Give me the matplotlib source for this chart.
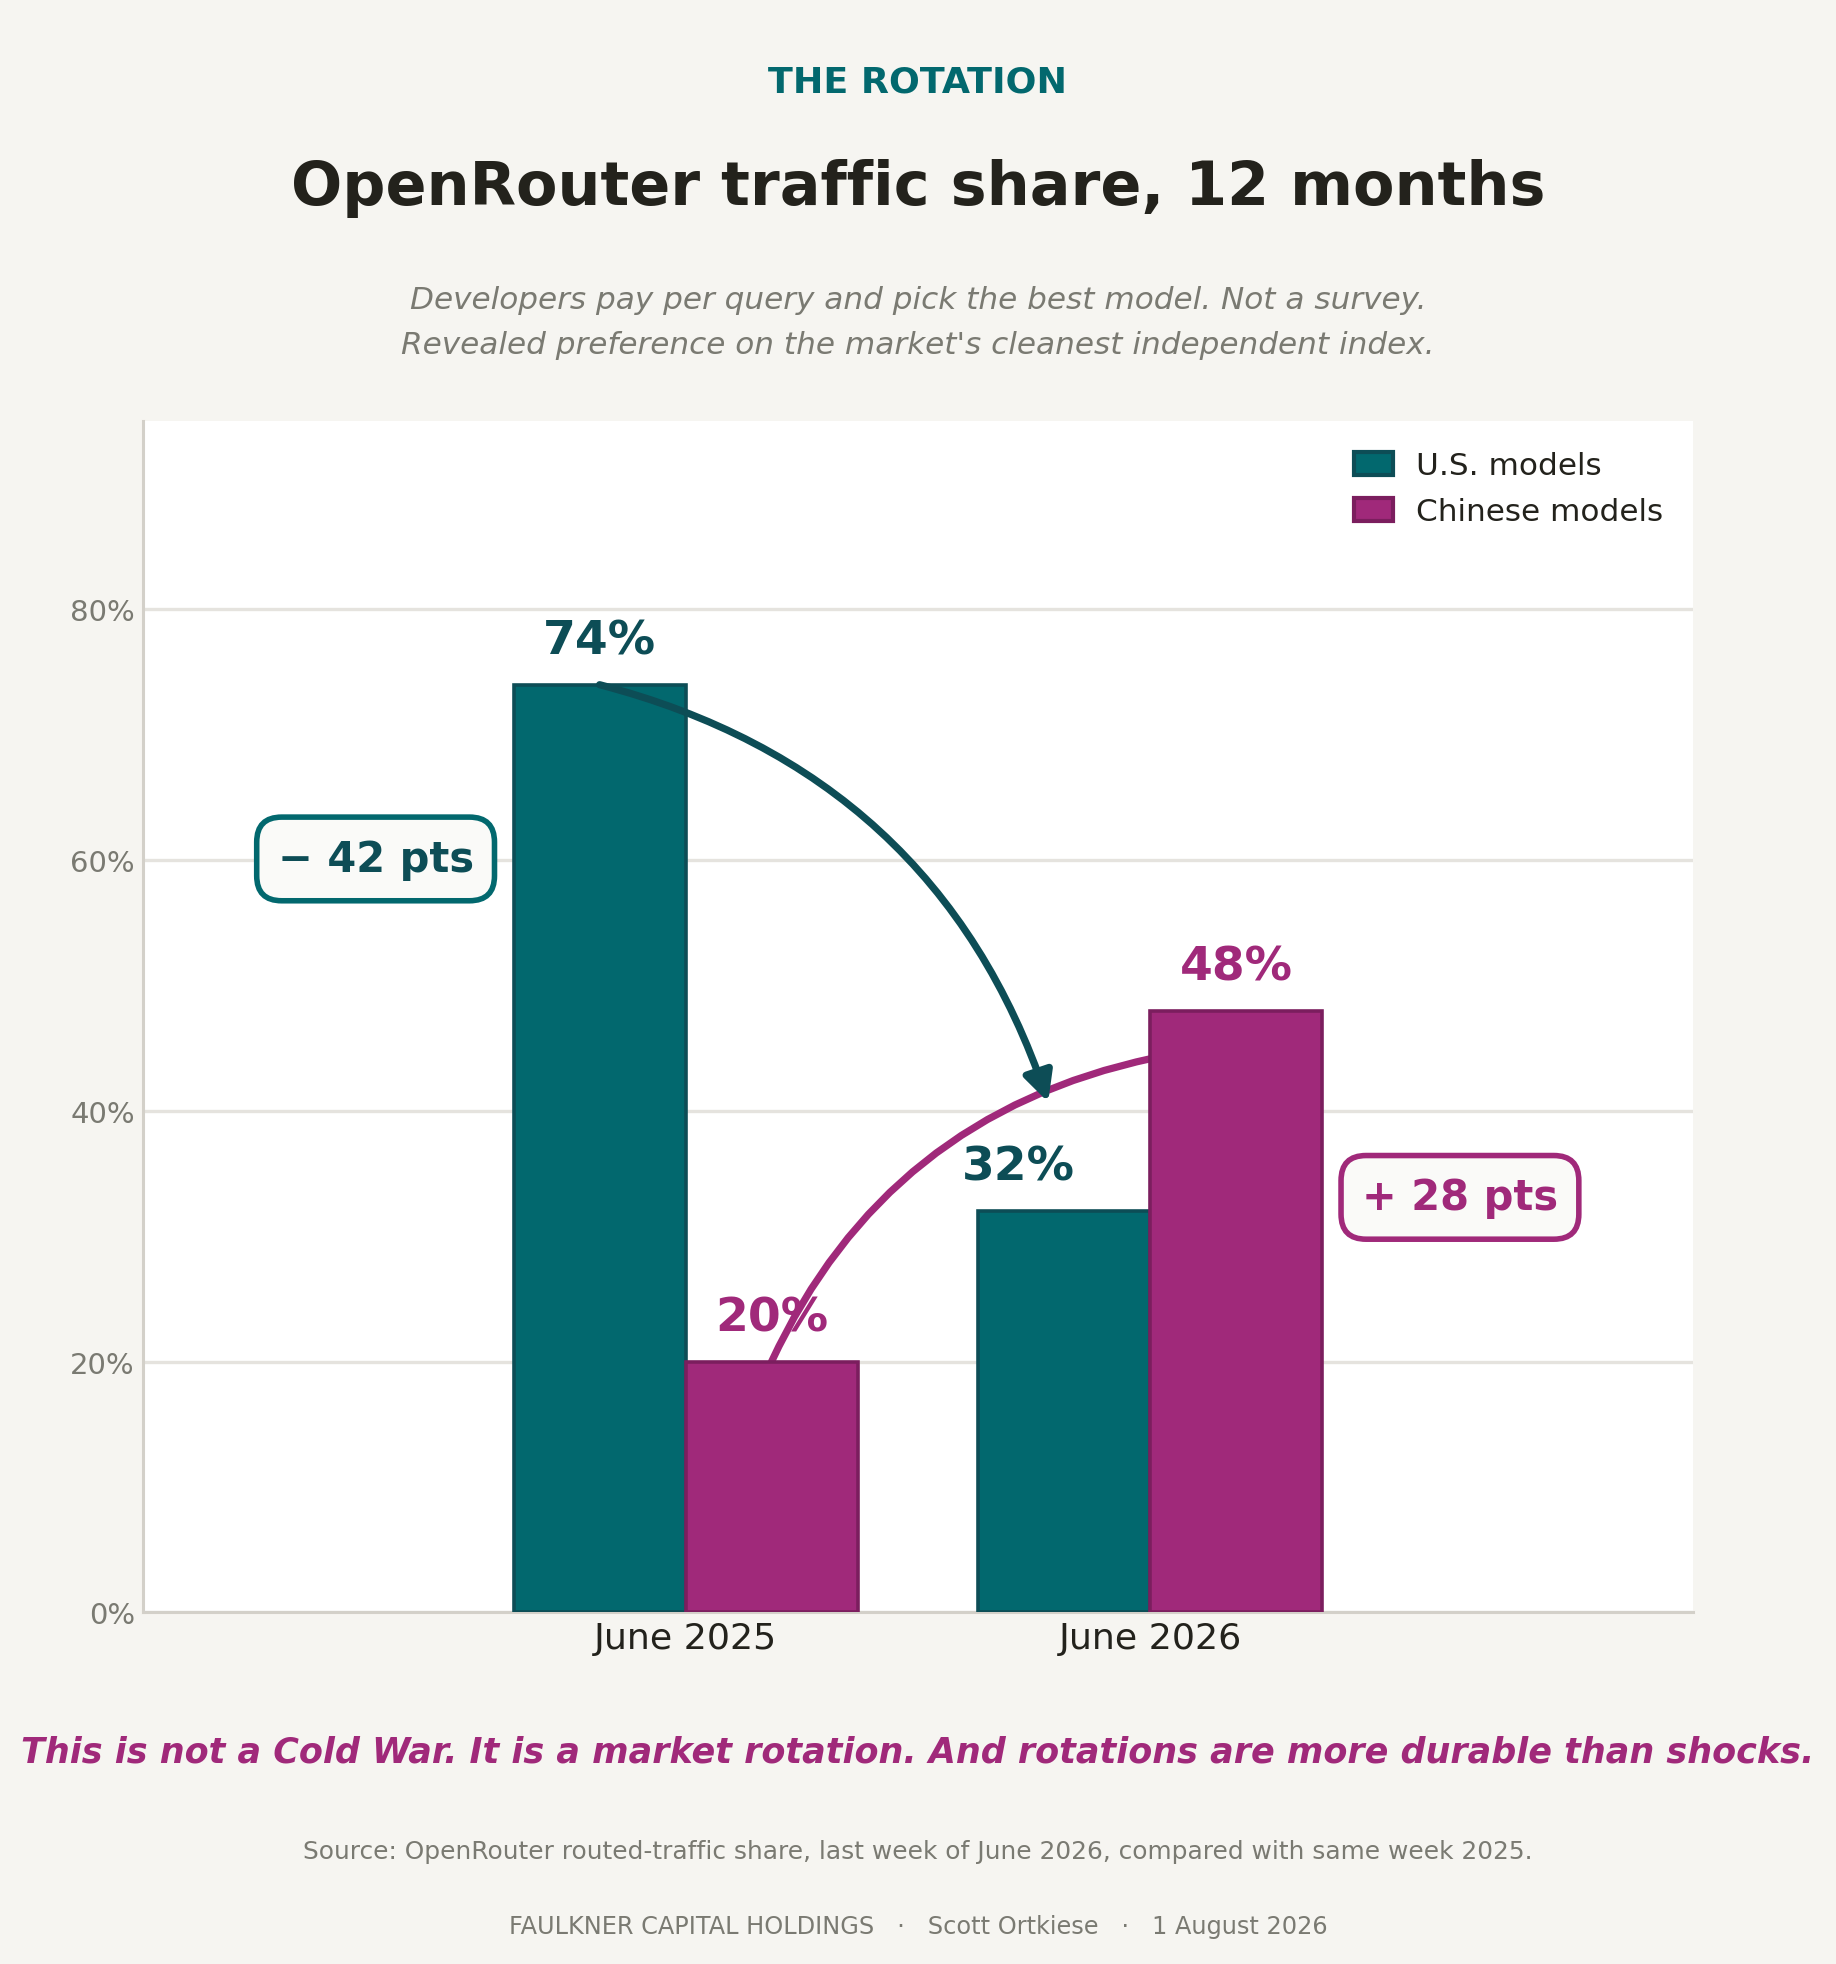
import matplotlib
matplotlib.use("Agg")
import matplotlib.pyplot as plt
import numpy as np
from matplotlib.patches import Patch

# data
periods = ["June 2025", "June 2026"]
us_share = [74, 32]
cn_share = [20, 48]
series_names = ["U.S. models", "Chinese models"]
change_labels = ["\u2212 42 pts", "+ 28 pts"]
y_ticks = [0, 20, 40, 60, 80]

# colours
BG = "#F6F5F1"
TEAL = "#02686E"
TEAL_DK = "#0D4D56"
MAG = "#A0297A"
MAG_DK = "#7B1E5E"
GRAY = "#7A7A72"
INK = "#23221C"

plt.rcParams["font.family"] = ["DejaVu Sans"]

fig = plt.figure(figsize=(9.18, 9.825), dpi=200, facecolor=BG)
ax = fig.add_axes([0.078, 0.179, 0.844, 0.606])
ax.set_facecolor("white")

x = np.arange(len(periods))
w = 0.37
b_us = ax.bar(x - w / 2, us_share, w, color=TEAL, edgecolor=TEAL_DK, linewidth=1.3, zorder=3)
b_cn = ax.bar(x + w / 2, cn_share, w, color=MAG, edgecolor=MAG_DK, linewidth=1.3, zorder=3)

# value labels (the 2026 U.S. label nudged left, clear of the arrow)
us_offsets = [0, -0.1]
for xi, v, dx in zip(x - w / 2, us_share, us_offsets):
    ax.text(xi + dx, v + 1.7, f"{v}%", ha="center", va="bottom", fontsize=17,
            fontweight="bold", color=TEAL_DK, zorder=2)
for xi, v in zip(x + w / 2, cn_share):
    ax.text(xi, v + 1.7, f"{v}%", ha="center", va="bottom", fontsize=17,
            fontweight="bold", color=MAG, zorder=2)

# rotation arrows
ax.annotate("", xy=(x[1] - w / 2 - 0.035, 40.7), xytext=(x[0] - w / 2, us_share[0]),
            arrowprops=dict(arrowstyle="-|>", color=TEAL_DK, lw=2.6, mutation_scale=22,
                            shrinkA=0, shrinkB=0, connectionstyle="arc3,rad=-0.27"),
            zorder=4)
ax.annotate("", xy=(x[1] + 0.005, 44.2), xytext=(x[0] + w / 2, cn_share[0]),
            arrowprops=dict(arrowstyle="-", color=MAG, lw=2.6, capstyle="round",
                            shrinkA=0, shrinkB=0, connectionstyle="arc3,rad=-0.25"),
            zorder=2.5)

# change boxes
ax.text(-0.667, 60.1, change_labels[0], ha="center", va="center", fontsize=15,
        fontweight="bold", color=TEAL_DK, zorder=5,
        bbox=dict(boxstyle="round,pad=0.5,rounding_size=0.6", fc="#FAFAF8", ec=TEAL, lw=2))
ax.text(1.666, 33.1, change_labels[1], ha="center", va="center", fontsize=15,
        fontweight="bold", color=MAG, zorder=5,
        bbox=dict(boxstyle="round,pad=0.5,rounding_size=0.6", fc="#FAFAF8", ec=MAG, lw=2))

ax.set_xlim(-1.167, 2.167)
ax.set_ylim(0, 95)
ax.set_xticks(x)
ax.set_xticklabels(periods, fontsize=13.1, color=INK)
ax.set_yticks(y_ticks)
ax.set_yticklabels([f"{t}%" for t in y_ticks], fontsize=10.5, color=GRAY)
ax.tick_params(axis="x", length=0, pad=3)
ax.tick_params(axis="y", length=0, pad=3)
ax.grid(axis="y", color="#E5E3DE", lw=1.2, zorder=0)
ax.set_axisbelow(True)
for s in ["top", "right"]:
    ax.spines[s].set_visible(False)
for s in ["left", "bottom"]:
    ax.spines[s].set_color("#D3D0C9")
    ax.spines[s].set_linewidth(1.1)

handles = [Patch(facecolor=TEAL, edgecolor=TEAL_DK, linewidth=1.5, label=series_names[0]),
           Patch(facecolor=MAG, edgecolor=MAG_DK, linewidth=1.5, label=series_names[1])]
ax.legend(handles=handles, loc="upper right", frameon=False, fontsize=11.2,
          labelcolor=INK, handlelength=1.25, handleheight=0.75, handletextpad=0.75,
          labelspacing=0.55, borderaxespad=0.55)

# titles and notes
fig.text(0.5, 0.958, "THE ROTATION", ha="center", va="center", fontsize=13.1,
         fontweight="bold", color=TEAL)
fig.text(0.5, 0.904, "OpenRouter traffic share, 12 months", ha="center", va="center",
         fontsize=21.75, fontweight="bold", color=INK)
fig.text(0.5, 0.847, "Developers pay per query and pick the best model. Not a survey.",
         ha="center", va="center", fontsize=11.23, style="italic", color=GRAY)
fig.text(0.5, 0.824, "Revealed preference on the market's cleanest independent index.",
         ha="center", va="center", fontsize=11.23, style="italic", color=GRAY)
fig.text(0.5, 0.108, "This is not a Cold War. It is a market rotation. And rotations are more durable than shocks.",
         ha="center", va="center", fontsize=12.6, style="italic", fontweight="bold", color=MAG)
fig.text(0.5, 0.0574, "Source: OpenRouter routed-traffic share, last week of June 2026, compared with same week 2025.",
         ha="center", va="center", fontsize=8.94, color=GRAY)
fig.text(0.5, 0.0191, "FAULKNER CAPITAL HOLDINGS   \u00b7   Scott Ortkiese   \u00b7   1 August 2026",
         ha="center", va="center", fontsize=8.67, color=GRAY)

fig.savefig("out.png", dpi=200, facecolor=BG)
